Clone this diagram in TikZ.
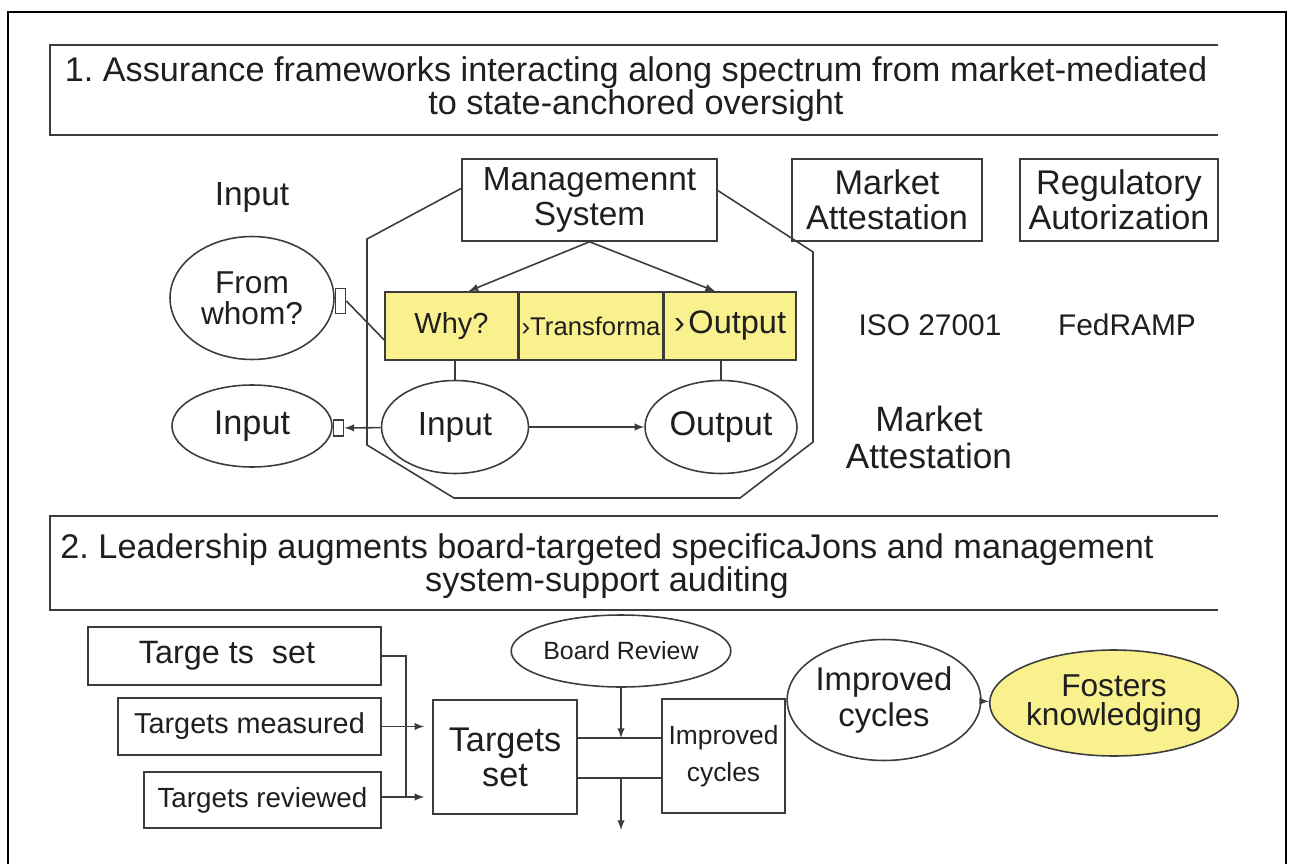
\documentclass[tikz,border=0pt]{standalone}
\usepackage{fontspec}
\setmainfont{Liberation Sans}
\usepackage{tikz}
\usetikzlibrary{shapes,arrows,positioning}
\definecolor{cellyellow}{RGB}{249,240,142}
\definecolor{inkgray}{RGB}{60,60,60}
\newcommand{\fsz}[2]{\fontsize{#1}{#2}\selectfont}
\frenchspacing
\tikzstyle{heading} = [align=center, text=black!88, font=\fsz{19.5}{19}]
\tikzstyle{labelbox} = [draw=inkgray, rectangle, align=center, inner sep=0pt, text=black!88]
\tikzstyle{oval} = [draw=inkgray, ellipse, align=center, inner sep=0pt, text=black!88]
\tikzstyle{cell} = [draw=inkgray, fill=cellyellow, rectangle, inner sep=0pt, minimum height=1.36cm, text=black!88]
\tikzstyle{port} = [draw=inkgray, rectangle, inner sep=0pt, minimum width=0.2cm, minimum height=0.5cm]
\tikzstyle{plain} = [align=center, text=black!88]
\tikzstyle{flow} = [draw=inkgray, -latex]

\begin{document}
\begin{tikzpicture}[x=0.02cm, y=-0.02cm, line width=0.9pt, draw=inkgray]
\useasboundingbox (0,0) rectangle (1293,864);
% outer frame
\draw[black, line width=1.3pt] (8,870) -- (8,12) -- (1286,12) -- (1286,870);

% ---- part 1
\node[heading] (head1) at (636,89) {1. Assurance frameworks interacting along spectrum from market-mediated\\to state-anchored oversight};
\draw[line width=1.1pt] (1218,45) -| (50,135) -- (1218,135);

\node[labelbox, minimum width=5.1cm, minimum height=1.64cm, font=\fsz{19}{20}] (mgmt) at (589.5,200) {Managemennt\\System};
\node[labelbox, minimum width=3.8cm, minimum height=1.64cm, font=\fsz{19.5}{20}] (market) at (887,200) {Market\\Attestation};
\node[labelbox, minimum width=3.96cm, minimum height=1.64cm, font=\fsz{19.5}{20}] (regul) at (1119,200) {Regulatory\\Autorization};
\node[plain, font=\fsz{19}{20}] (inlabel) at (252,197) {Input};

% enclosing frame of the management system
\draw (462,188) -- (367,239) -- (367,445) -- (454,498) -- (740,498) -- (813,442) -- (813,252) -- (717,190);

\node[oval, minimum width=3.28cm, minimum height=2.46cm, font=\fsz{18}{17.5}] (fromwhom) at (252,298) {From\\whom?};
\node[port, right=0pt of fromwhom, yshift=-0.06cm] (fromport) {};

\node[cell, minimum width=2.66cm, font=\fsz{16.5}{17}] (why) at (451.5,326) {Why?};
\node[cell, minimum width=2.86cm, right=0pt of why, font=\fsz{14.6}{15}] (transf) {›Transforma};
\node[cell, minimum width=2.64cm, right=0pt of transf, font=\fsz{18.5}{19}] (outcell) {›\hspace{2pt}Output};

\node[oval, minimum width=3.2cm, minimum height=1.64cm, font=\fsz{19.5}{20}] (inleft) at (252,426) {Input};
\node[port, right=0pt of inleft, yshift=-0.04cm, minimum height=0.32cm] (inport) {};
\node[oval, minimum width=2.94cm, minimum height=1.86cm, font=\fsz{19}{20}] (inmid) at (455,427) {Input};
\node[oval, minimum width=3.04cm, minimum height=1.86cm, font=\fsz{19.5}{20}] (outmid) at (721,427) {Output};

\node[plain, font=\fsz{17}{18}] (iso) at (930,325) {ISO 27001};
\node[plain, font=\fsz{17}{18}] (fedramp) at (1127,325) {FedRAMP};
\node[plain, font=\fsz{20}{21}] (market2) at (929,437) {Market\\Attestation};

\draw[flow] (mgmt.south) -- ([xshift=0.34cm]why.north);
\draw[flow] (mgmt.south) -- ([xshift=-0.3cm]outcell.north);
\draw (fromport.east) -- ([yshift=-0.28cm]why.west);
\draw (why.south -| inmid.north) -- (inmid.north);
\draw (outcell.south -| outmid.north) -- (outmid.north);
\draw[flow] (inmid) -- (inport);
\draw[flow] (inmid) -- (outmid);

% ---- part 2
\node[heading] (head2) at (607,566) {2. Leadership augments board-targeted specificaJons and management\\system-support auditing};
\draw[line width=1.1pt] (1218,516) -| (50,610) -- (1218,610);

\node[labelbox, minimum width=5.86cm, minimum height=1.16cm, font=\fsz{18.4}{19}] (tset) at (234.5,656) {Targe ts \ set\hspace{0.3cm}};
\node[labelbox, minimum width=5.26cm, minimum height=1.14cm, font=\fsz{16.4}{17}] (tmeas) at (249.5,726.5) {Targets measured};
\node[labelbox, minimum width=4.74cm, minimum height=1.12cm, font=\fsz{15.8}{16}] (trev) at (262.5,800) {Targets reviewed};
\node[labelbox, minimum width=2.88cm, minimum height=2.28cm, font=\fsz{19.5}{20}] (tcenter) at (505,757) {Targets\\set};
\node[oval, minimum width=3.92cm, minimum height=1.44cm, font=\fsz{14.2}{15}] (board) at (621,651) {Board Review};
\node[labelbox, minimum width=2.46cm, minimum height=2.28cm, font=\fsz{15}{21}] (impbox) at (723.5,756) {Improved\\cycles};
\node[oval, minimum width=3.48cm, minimum height=2.42cm, font=\fsz{18.7}{20}] (impoval) at (884,700) {Improved\\cycles};
\node[oval, fill=cellyellow, minimum width=4.72cm, minimum height=2.12cm, font=\fsz{18}{16.5}] (fosters) at (1114,703) {Fosters\\knowledging};

\coordinate (jn) at (406,797);
\coordinate (upjoin) at (621,738);
\coordinate (lojoin) at (621,778);
\coordinate (outend) at (621,830);

\draw (tset.east) -| (jn);
\draw[flow, shorten >=0.16cm] (tmeas.east) -- (tmeas.east -| tcenter.west);
\draw[flow, shorten >=0.16cm] (trev.east |- jn) -- (jn -| tcenter.west);
\draw (tcenter.east |- upjoin) -- (impbox.west |- upjoin);
\draw (tcenter.east |- lojoin) -- (impbox.west |- lojoin);
\draw[flow] (board) -- (upjoin);
\draw[flow] (lojoin) -- (outend);
\draw[flow] (impoval) -- (fosters);
\end{tikzpicture}
\end{document}
